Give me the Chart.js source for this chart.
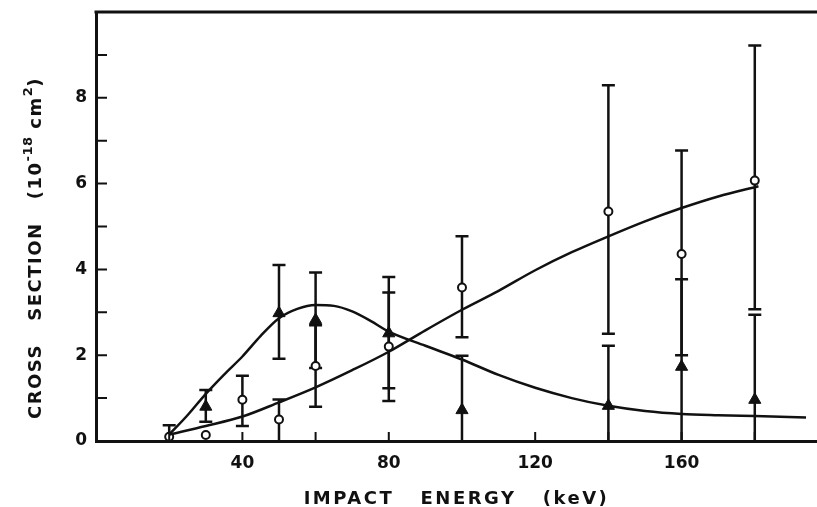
<!DOCTYPE html>
<html>
<head>
<meta charset="utf-8">
<script src="https://cdn.jsdelivr.net/npm/chart.js@4/dist/chart.umd.min.js"></script>
<style>
  body { margin: 0; background: #fff; }
  #wrap { position: relative; width: 817px; height: 507px; }
</style>
</head>
<body>
<div id="wrap"><canvas id="chart"></canvas></div>
<script>
// open circles: measured points and error bar limits
const circleX = [20, 30, 40, 50, 60, 80, 100, 140, 160, 180];
const circleY = [0.10, 0.14, 0.96, 0.50, 1.75, 2.20, 3.58, 5.35, 4.36, 6.07];
const circleLow = [0, null, 0.35, 0, 0.80, 0.93, 2.42, 2.50, 2.00, 3.07];
const circleHigh = [0.37, null, 1.52, 0.97, 2.70, 3.46, 4.77, 8.29, 6.77, 9.22];

// solid triangles
const triX = [30, 50, 60, 80, 100, 140, 160, 180];
const triY = [0.80, 2.98, 2.82, 2.51, 0.72, 0.82, 1.73, 0.96];
const triLow = [0.45, 1.92, 1.70, 1.23, 0, 0, 0, 0];
const triHigh = [1.19, 4.10, 3.93, 3.82, 1.99, 2.22, 3.77, 2.94];

// fitted curves
const curveAX = [20, 25, 30, 35, 40, 45, 50, 55, 60, 65, 70, 75, 80, 90, 100, 110, 120, 130, 140, 150, 160, 170, 180, 194];
const curveAY = [0.15, 0.60, 1.10, 1.55, 1.97, 2.45, 2.86, 3.08, 3.17, 3.15, 3.02, 2.80, 2.55, 2.22, 1.90, 1.54, 1.24, 1.00, 0.82, 0.70, 0.63, 0.60, 0.58, 0.55];
const curveBX = [20, 30, 40, 50, 60, 70, 80, 90, 100, 110, 120, 130, 140, 150, 160, 170, 181];
const curveBY = [0.15, 0.35, 0.57, 0.90, 1.25, 1.65, 2.08, 2.58, 3.06, 3.50, 3.98, 4.40, 4.77, 5.12, 5.43, 5.70, 5.94];

const xTickLabels = [40, 80, 120, 160];
const yTickLabels = [0, 2, 4, 6, 8];

const INK = '#111';
const FONT = '"DejaVu Sans", sans-serif';

const toPts = (xs, ys) => xs.map((x, i) => ({ x: x, y: ys[i] }));

// error bars, drawn under the markers
const errorBars = {
  id: 'errorBars',
  beforeDatasetsDraw(chart) {
    const { ctx, scales: { x, y } } = chart;
    ctx.save();
    ctx.strokeStyle = INK;
    ctx.lineWidth = 2.5;
    const draw = (xs, lo, hi) => {
      xs.forEach((v, i) => {
        if (lo[i] == null) return;
        const px = x.getPixelForValue(v);
        const y0 = y.getPixelForValue(lo[i]);
        const y1 = y.getPixelForValue(hi[i]);
        ctx.beginPath();
        ctx.moveTo(px, y0);
        ctx.lineTo(px, y1);
        ctx.moveTo(px - 6.5, y1);
        ctx.lineTo(px + 6.5, y1);
        if (lo[i] > 0) {
          ctx.moveTo(px - 6.5, y0);
          ctx.lineTo(px + 6.5, y0);
        }
        ctx.stroke();
      });
    };
    draw(circleX, circleLow, circleHigh);
    draw(triX, triLow, triHigh);
    ctx.restore();
  }
};

// top frame line, inward tick marks and axis titles
const frame = {
  id: 'frame',
  afterDraw(chart) {
    const { ctx, chartArea: a, scales: { x, y } } = chart;
    ctx.save();
    ctx.strokeStyle = INK;
    ctx.lineWidth = 3;
    ctx.beginPath();
    ctx.moveTo(a.left - 1.5, a.top);
    ctx.lineTo(chart.width, a.top);
    ctx.stroke();

    ctx.lineWidth = 2;
    ctx.beginPath();
    y.ticks.forEach(t => {
      if (t.value <= 0 || t.value >= 10) return;
      const py = y.getPixelForValue(t.value);
      ctx.moveTo(a.left, py);
      ctx.lineTo(a.left + 11, py);
    });
    x.ticks.forEach(t => {
      if (t.value <= 0) return;
      const px = x.getPixelForValue(t.value);
      ctx.moveTo(px, a.bottom);
      ctx.lineTo(px, a.bottom - 9);
    });
    ctx.stroke();

    ctx.fillStyle = INK;
    // x title
    ctx.font = 'bold 18px ' + FONT;
    ctx.letterSpacing = '2.5px';
    ctx.textAlign = 'center';
    ctx.textBaseline = 'alphabetic';
    ctx.fillText('IMPACT   ENERGY   (keV)', (a.left + a.right) / 2, 504);

    // y title, rotated, with superscripts
    const parts = [
      ['CROSS   SECTION   (10', false],
      ['-18', true],
      [' cm', false],
      ['2', true],
      [')', false]
    ];
    const mainFont = 'bold 18px ' + FONT;
    const supFont = 'bold 13px ' + FONT;
    ctx.textAlign = 'left';
    let total = 0;
    parts.forEach(p => {
      ctx.font = p[1] ? supFont : mainFont;
      ctx.letterSpacing = p[1] ? '0.5px' : '1.5px';
      total += ctx.measureText(p[0]).width;
    });
    ctx.translate(41, 248);
    ctx.rotate(-Math.PI / 2);
    let cx = -total / 2;
    parts.forEach(p => {
      ctx.font = p[1] ? supFont : mainFont;
      ctx.letterSpacing = p[1] ? '0.5px' : '1.5px';
      ctx.fillText(p[0], cx, p[1] ? -9 : 0);
      cx += ctx.measureText(p[0]).width;
    });
    ctx.restore();
  }
};

const chart = new Chart(document.getElementById('chart'), {
  type: 'scatter',
  data: {
    datasets: [
      {
        data: toPts(curveAX, curveAY),
        showLine: true,
        borderColor: INK,
        borderWidth: 2.5,
        pointRadius: 0,
        cubicInterpolationMode: 'monotone'
      },
      {
        data: toPts(curveBX, curveBY),
        showLine: true,
        borderColor: INK,
        borderWidth: 2.5,
        pointRadius: 0,
        cubicInterpolationMode: 'monotone'
      },
      {
        data: toPts(triX, triY),
        pointStyle: 'triangle',
        pointRadius: 7,
        backgroundColor: INK,
        borderColor: INK,
        borderWidth: 1,
        clip: false
      },
      {
        data: toPts(circleX, circleY),
        pointStyle: 'circle',
        pointRadius: 4,
        backgroundColor: '#fff',
        borderColor: INK,
        borderWidth: 2,
        clip: false
      }
    ]
  },
  options: {
    responsive: true,
    maintainAspectRatio: false,
    animation: false,
    events: [],
    layout: { autoPadding: false, padding: { top: 12, right: 0, left: 0, bottom: 0 } },
    plugins: {
      legend: { display: false },
      tooltip: { enabled: false }
    },
    scales: {
      x: {
        type: 'linear',
        min: 0,
        max: 197,
        afterFit: s => { s.height = 66; s.paddingLeft = 0; s.paddingRight = 0; },
        border: { display: true, color: INK, width: 3 },
        grid: { drawOnChartArea: false, drawTicks: false },
        ticks: {
          stepSize: 20,
          includeBounds: false,
          autoSkip: false,
          maxRotation: 0,
          padding: 12,
          color: INK,
          font: { family: FONT, size: 17, weight: 'bold' },
          callback: v => xTickLabels.includes(v) ? String(v) : ''
        }
      },
      y: {
        type: 'linear',
        min: 0,
        max: 10,
        afterFit: s => { s.width = 96; s.paddingTop = 0; s.paddingBottom = 0; },
        border: { display: true, color: INK, width: 3 },
        grid: { drawOnChartArea: false, drawTicks: false },
        ticks: {
          stepSize: 1,
          autoSkip: false,
          padding: 9,
          color: INK,
          font: { family: FONT, size: 17, weight: 'bold' },
          callback: v => yTickLabels.includes(v) ? String(v) : ''
        }
      }
    }
  },
  plugins: [errorBars, frame]
});
</script>
</body>
</html>
